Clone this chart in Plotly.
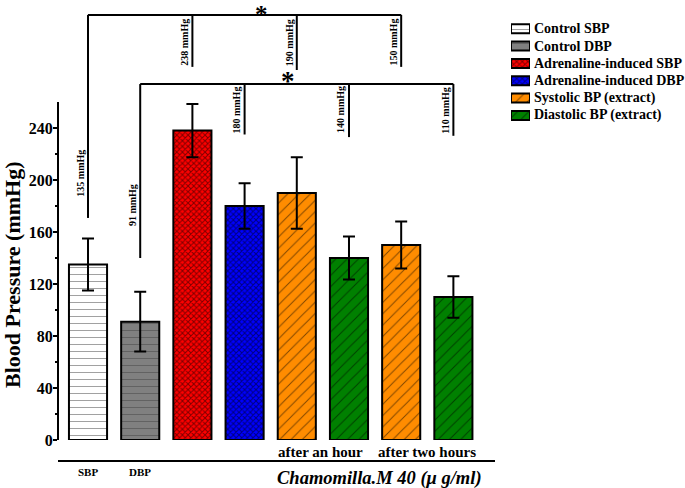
import plotly.graph_objects as go

# ---------------- data ----------------
bar_keys = ["SBP", "DBP", "Adr SBP", "Adr DBP", "Sys 1h", "Dia 1h", "Sys 2h", "Dia 2h"]
values = [135, 91, 238, 180, 190, 140, 150, 110]
errors = [20, 23, 20.5, 17.5, 27.5, 16.5, 18, 16]

series_names = ["Control SBP", "Control DBP", "Adrenaline-induced SBP",
                "Adrenaline-induced DBP", "Systolic BP (extract)", "Diastolic BP (extract)"]
series_members = [[0], [1], [2], [3], [4, 6], [5, 7]]
series_colors = ["#FFFFFF", "#808080", "#FF0000", "#0000FF", "#FF8C00", "#008000"]
series_patterns = ["-", "-", "x", "x", "/", "/"]

y_ticks = [0, 40, 80, 120, 160, 200, 240]
y_minor = [20, 60, 100, 140, 180, 220]

FONT = "Liberation Serif, Times New Roman, serif"

# layout geometry (pixels)
W, H = 685, 488
ML, MR, MT, MB = 58, 0, 5, 48
PW = W - ML - MR            # paper width in px
PLOT_RIGHT = 480            # right edge of bar area in px


def px_x(px):
    return (px - ML) / PW


def px_y(py):
    return (H - MB - py) / (H - MB - MT)


PAT_SIZE = {"-": 7, "x": 4, "/": 8}
PAT_SOL = {"-": 0.15, "x": 0.45, "/": 0.12}

fig = go.Figure()
for name, members, col, pat in zip(series_names, series_members, series_colors, series_patterns):
    fg = "#444444" if pat == "-" else "black"
    fig.add_trace(go.Bar(
        x=members,
        y=[values[i] for i in members],
        name=name,
        width=0.73,
        showlegend=False,
        marker=dict(color=col, line=dict(color="black", width=2),
                    pattern=dict(shape=pat, fgcolor=fg, bgcolor=col,
                                 size=PAT_SIZE[pat], solidity=PAT_SOL[pat])),
        error_y=dict(type="data", array=[errors[i] for i in members],
                     color="black", thickness=2, width=6),
    ))

# manual legend swatches (horizontal bars on a small helper axis)
for i, (name, col, pat) in enumerate(zip(series_names, series_colors, series_patterns)):
    fg = "#444444" if pat == "-" else "black"
    fig.add_trace(go.Bar(
        x=[1], y=[i], orientation="h", xaxis="x2", yaxis="y2", width=0.52,
        showlegend=False, cliponaxis=False, hoverinfo="skip",
        marker=dict(color=col, line=dict(color="black", width=2),
                    pattern=dict(shape=pat, fgcolor=fg, bgcolor=col,
                                 size=PAT_SIZE[pat], solidity=PAT_SOL[pat])),
    ))

shapes = []
annotations = []
LW = 2

# upper bracket: control SBP vs adrenaline SBP / extract SBP
up_y = 327
up_members = [0, 2, 4, 6]
up_ends = [170.8, 287, 284.6, 287]
shapes.append(dict(type="line", xref="x", yref="y", x0=up_members[0], x1=up_members[-1],
                   y0=up_y, y1=up_y, line=dict(color="black", width=LW)))
for m, e in zip(up_members, up_ends):
    shapes.append(dict(type="line", xref="x", yref="y", x0=m, x1=m, y0=up_y, y1=e,
                       line=dict(color="black", width=LW)))

# lower bracket: control DBP vs adrenaline DBP / extract DBP
lo_y = 273.8
lo_members = [1, 3, 5, 7]
lo_ends = [140, 235, 233, 234]
shapes.append(dict(type="line", xref="x", yref="y", x0=lo_members[0], x1=lo_members[-1],
                   y0=lo_y, y1=lo_y, line=dict(color="black", width=LW)))
for m, e in zip(lo_members, lo_ends):
    shapes.append(dict(type="line", xref="x", yref="y", x0=m, x1=m, y0=lo_y, y1=e,
                       line=dict(color="black", width=LW)))

# value labels (rotated)
label_pos = {0: 205, 1: 181, 2: 306, 4: 306, 6: 306, 3: 254, 5: 254, 7: 253}
for i, yy in label_pos.items():
    annotations.append(dict(x=i - 0.15, y=yy, xref="x", yref="y", text=f"{values[i]} mmHg",
                            textangle=-90, showarrow=False, xanchor="center", yanchor="middle",
                            font=dict(family=FONT, size=10, color="black", weight="bold")))

# asterisks
annotations.append(dict(x=3.33, y=px_y(0), xref="x", yref="paper", text="*", showarrow=False,
                        xanchor="center", yanchor="top", borderpad=0,
                        font=dict(family=FONT, size=25, color="black", weight="bold")))
annotations.append(dict(x=3.83, y=276, xref="x", yref="y", text="*", showarrow=False,
                        xanchor="center", yanchor="middle",
                        font=dict(family=FONT, size=27, color="black", weight="bold")))

# y axis line (to 260)
shapes.append(dict(type="line", xref="paper", yref="y", x0=0, x1=0, y0=0, y1=260,
                   line=dict(color="black", width=2)))

# bottom group line
shapes.append(dict(type="line", xref="paper", yref="paper", x0=0, x1=px_x(495),
                   y0=px_y(461), y1=px_y(461), line=dict(color="black", width=2)))

# bottom labels
for txt, xx, py, sz in [("SBP", 0, 472, 11), ("DBP", 1, 472, 11),
                        ("after an hour", 4.45, 452, 15), ("after two hours", 6.5, 452, 15)]:
    annotations.append(dict(x=xx, y=px_y(py), xref="x", yref="paper", text=txt, showarrow=False,
                            xanchor="center", yanchor="middle",
                            font=dict(family=FONT, size=sz, color="black", weight="bold")))
annotations.append(dict(x=5.58, y=px_y(478), xref="x", yref="paper",
                        text="<i>Chamomilla.M 40 (μ g/ml)</i>", showarrow=False,
                        xanchor="center", yanchor="middle",
                        font=dict(family=FONT, size=18.5, color="black", weight="bold")))

# y axis title
annotations.append(dict(x=px_x(12), y=px_y(275), xref="paper", yref="paper",
                        text="Blood Pressure (mmHg)", textangle=-90, showarrow=False,
                        xanchor="center", yanchor="middle",
                        font=dict(family=FONT, size=22, color="black", weight="bold")))

# legend texts
for i, name in enumerate(series_names):
    annotations.append(dict(x=px_x(532), y=i, xref="paper", yref="y2", text=name,
                            showarrow=False, xanchor="left", yanchor="middle",
                            font=dict(family=FONT, size=14, color="black", weight="bold")))

ROW = 17.35
ROW0 = 28.7
y2_top = -(ROW0 - MT) / ROW
y2_bot = y2_top + (H - MB - MT) / ROW

fig.update_layout(
    width=W, height=H,
    margin=dict(l=ML, r=MR, t=MT, b=MB),
    paper_bgcolor="white", plot_bgcolor="white",
    barmode="overlay",
    showlegend=False,
    xaxis=dict(domain=[0, px_x(PLOT_RIGHT)], range=[-0.575, 7.51], visible=False, fixedrange=True),
    yaxis=dict(range=[0, 334.6], showgrid=False, zeroline=False, showline=False,
               tickmode="array", tickvals=y_ticks, ticktext=[str(t) for t in y_ticks],
               ticks="outside", ticklen=4, tickwidth=2, tickcolor="black",
               ticklabelstandoff=-3,
               minor=dict(tickvals=y_minor, ticks="outside", ticklen=2, tickwidth=1.5,
                          tickcolor="black", showgrid=False),
               tickfont=dict(family=FONT, size=16, color="black", weight="bold")),
    xaxis2=dict(domain=[px_x(511), px_x(530)], range=[0, 1], visible=False, fixedrange=True),
    yaxis2=dict(domain=[0, 1], range=[y2_bot, y2_top], visible=False, fixedrange=True,
                anchor="x2"),
    shapes=shapes,
    annotations=annotations,
)

fig.write_html("out.html")
